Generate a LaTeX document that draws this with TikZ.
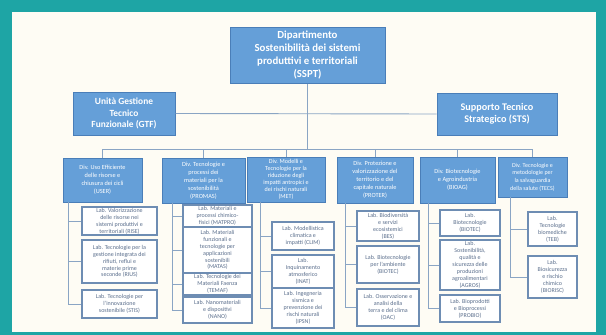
\documentclass[tikz,border=0pt]{standalone}
\usepackage{fontspec}
\setmainfont{Carlito}
\definecolor{teal1}{HTML}{1EA5A5}
\definecolor{panel}{HTML}{FEFCF4}
\definecolor{boxfill}{HTML}{659FD8}
\definecolor{boxline}{HTML}{4A7EB8}
\definecolor{labline}{HTML}{6E8DB3}
\definecolor{labtext}{HTML}{5A6E8C}
\definecolor{conn}{HTML}{8AA5C4}
\begin{document}
\begin{tikzpicture}[x=1pt,y=-1pt,
  headbox/.style={draw=boxline,line width=1pt,fill=boxfill,text=white,font=\bfseries\fontsize{10.8}{12.8}\selectfont,align=center,inner sep=1pt},
  divbox/.style={draw=boxline,line width=0.8pt,fill=boxfill,text=white,font=\fontsize{6.3}{7.9}\selectfont,align=center,inner sep=1pt},
  labbox/.style={draw=labline,line width=1.2pt,fill=white,text=labtext,font=\fontsize{6}{6.9}\selectfont,align=center,inner sep=1pt},
  link/.style={draw=conn,line width=0.9pt}]
\fill[teal1] (0,0) rectangle (606,335);
\fill[panel] (12,12) rectangle (596,332);
\useasboundingbox (0,0) rectangle (606,335);

% top level
\node[headbox,minimum width=155,minimum height=56] (top) at (307.5,55) {Dipartimento\\Sostenibilità dei sistemi\\produttivi e territoriali\\(SSPT)};
\node[headbox,minimum width=102,minimum height=43,font=\bfseries\fontsize{9.4}{11.8}\selectfont] (gtf) at (124,113.5) {Unità Gestione\\Tecnico\\Funzionale (GTF)};
\node[headbox,minimum width=120,minimum height=42,font=\bfseries\fontsize{10.2}{12.5}\selectfont] (sts) at (497,114) {Supporto Tecnico\\Strategico (STS)};

% divisions
\node[divbox,minimum width=79,minimum height=44] (d1) at (102.5,180) {Div. Uso Efficiente\\delle risorse e\\chiusura dei cicli\\(USER)};
\node[divbox,minimum width=83,minimum height=45] (d2) at (203.5,180.5) {Div. Tecnologie e\\processi dei\\materiali per la\\sostenibilità\\(PROMAS)};
\node[divbox,minimum width=78,minimum height=45,font=\fontsize{6.1}{7.1}\selectfont] (d3) at (286,179.5) {Div. Modelli e\\Tecnologie per la\\riduzione degli\\impatti antropici e\\dei rischi naturali\\(MET)};
\node[divbox,minimum width=76,minimum height=46] (d4) at (375,180) {Div. Protezione e\\valorizzazione del\\territorio e del\\capitale naturale\\(PROTER)};
\node[divbox,minimum width=75,minimum height=46] (d5) at (457.5,180) {Div. Biotecnologie\\e Agroindustria\\(BIOAG)};
\node[divbox,minimum width=69,minimum height=40,font=\fontsize{6}{7.6}\selectfont] (d6) at (532.5,177) {Div. Tecnologie e\\metodologie per\\la salvaguardia\\della salute (TECS)};

% top connectors
\coordinate (bus) at (307.5,149);
\draw[link] (top.south) -- (bus);
\draw[link] (gtf.east) -- (sts.west);
\draw[link] (d1.north |- bus) -- (d6.north |- bus);
\foreach \d in {d1,d2,d3,d4,d5,d6}{\draw[link] (\d.north |- bus) -- (\d.north);}

% labs div1
\node[labbox,minimum width=75,minimum height=28] (l11) at (119.5,221) {Lab. Valorizzazione\\delle risorse nei\\sistemi produttivi e\\territoriali (RISE)};
\node[labbox,minimum width=75,minimum height=43] (l12) at (119.5,261.5) {Lab. Tecnologie per la\\gestione integrata dei\\rifiuti, reflui e\\materie prime\\seconde (RIUS)};
\node[labbox,minimum width=75,minimum height=28] (l13) at (119.5,304) {Lab. Tecnologie per\\l'innovazione\\sostenibile (STIS)};
% labs div2
\node[labbox,minimum width=69,minimum height=22] (l21) at (217.5,216) {Lab. Materiali e\\processi chimico-\\fisici (MATPRO)};
\node[labbox,minimum width=69,minimum height=46] (l22) at (217.5,250) {Lab. Materiali\\funzionali e\\tecnologie per\\applicazioni\\sostenibili\\(MATAS)};
\node[labbox,minimum width=69,minimum height=22] (l23) at (217.5,284) {Lab. Tecnologie dei\\Materiali Faenza\\(TEMAF)};
\node[labbox,minimum width=69,minimum height=26] (l24) at (217.5,310) {Lab. Nanomateriali\\e dispositivi\\(NANO)};
% labs div3
\node[labbox,minimum width=62,minimum height=28] (l31) at (303,236) {Lab. Modellistica\\climatica e\\impatti (CLIM)};
\node[labbox,minimum width=62,minimum height=33] (l32) at (303,271.5) {Lab.\\Inquinamento\\atmosferico\\(INAT)};
\node[labbox,minimum width=62,minimum height=40] (l33) at (303,308) {Lab. Ingegneria\\sismica e\\prevenzione dei\\rischi naturali\\(IPSN)};
% labs div4
\node[labbox,minimum width=62,minimum height=30] (l41) at (388,226) {Lab. Biodiversità\\e servizi\\ecosistemici\\(BES)};
\node[labbox,minimum width=62,minimum height=37] (l42) at (388,264.5) {Lab. Biotecnologie\\per l'ambiente\\(BIOTEC)};
\node[labbox,minimum width=62,minimum height=37] (l43) at (388,307.5) {Lab. Osservazione e\\analisi della\\terra e del clima\\(OAC)};
% labs div5
\node[labbox,minimum width=60,minimum height=26] (l51) at (470,223) {Lab.\\Biotecnologie\\(BIOTEC)};
\node[labbox,minimum width=60,minimum height=50] (l52) at (470,265) {Lab.\\Sostenibilità,\\qualità e\\sicurezza delle\\produzioni\\agroalimentari\\(AGROS)};
\node[labbox,minimum width=60,minimum height=27] (l53) at (470,308.5) {Lab. Bioprodotti\\e Bioprocessi\\(PROBIO)};
% labs div6
\node[labbox,minimum width=49,minimum height=34] (l61) at (552.5,229) {Lab.\\Tecnologie\\biomediche\\(TEB)};
\node[labbox,minimum width=49,minimum height=42] (l62) at (552.5,277) {Lab.\\Biosicurezza\\e rischio\\chimico\\(BIORISC)};

% lab connectors
\coordinate (s1) at (68,0);
\coordinate (s2) at (172,0);
\coordinate (s3) at (260,0);
\coordinate (s4) at (345,0);
\coordinate (s5) at (428,0);
\coordinate (s6) at (510,0);
\draw[link] (s1 |- d1.south) -- (s1 |- l13.west) -- (l13.west);
\draw[link] (s1 |- l11.west) -- (l11.west);
\draw[link] (s1 |- l12.west) -- (l12.west);
\draw[link] (s2 |- d2.south) -- (s2 |- l24.west) -- (l24.west);
\foreach \l in {l21,l22,l23}{\draw[link] (s2 |- \l.west) -- (\l.west);}
\draw[link] (s3 |- d3.south) -- (s3 |- l33.west) -- (l33.west);
\foreach \l in {l31,l32}{\draw[link] (s3 |- \l.west) -- (\l.west);}
\draw[link] (s4 |- d4.south) -- (s4 |- l43.west) -- (l43.west);
\foreach \l in {l41,l42}{\draw[link] (s4 |- \l.west) -- (\l.west);}
\draw[link] (s5 |- d5.south) -- (s5 |- l53.west) -- (l53.west);
\foreach \l in {l51,l52}{\draw[link] (s5 |- \l.west) -- (\l.west);}
\draw[link] (s6 |- d6.south) -- (s6 |- l62.west) -- (l62.west);
\draw[link] (s6 |- l61.west) -- (l61.west);
\end{tikzpicture}
\end{document}
